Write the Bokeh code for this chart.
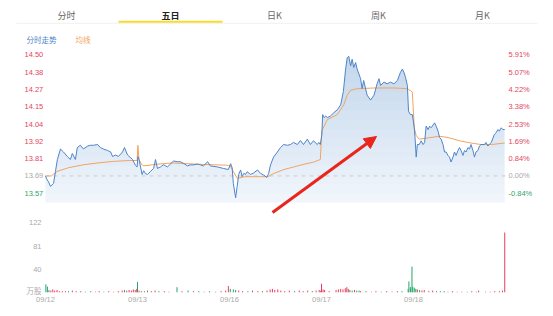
import numpy as np
from bokeh.plotting import figure
from bokeh.models import Range1d, ColumnDataSource, Arrow, NormalHead
from bokeh.core.properties import value
from bokeh.embed import file_html
from bokeh.resources import INLINE

# ---------------- data ----------------
tabs = ["分时", "五日", "日K", "周K", "月K"]
active_tab = "五日"
legend_names = ["分时走势", "均线"]
dates = ["09/12", "09/13", "09/16", "09/17", "09/18"]
day_start_minute = [0, 240, 480, 720, 960]
prev_close = 13.69

price_tick_labels = ["14.50", "14.38", "14.27", "14.15", "14.04", "13.92", "13.81", "13.69", "13.57"]
pct_values = [5.91, 5.07, 4.22, 3.38, 2.53, 1.69, 0.84, 0.00, -0.84]
pct_labels = ["5.91%", "5.07%", "4.22%", "3.38%", "2.53%", "1.69%", "0.84%", "0.00%", "-0.84%"]
vol_ticks = [122, 81, 40]
vol_unit = "万股"

# minute index over 5 trading days (240 per day)
minutes = [0, 3, 8, 13, 21, 26, 31, 39, 47, 57, 65, 70, 78, 83, 91, 99, 110, 117, 125, 136, 143, 151, 162, 170, 175, 183, 190, 201, 206, 214, 227, 235, 239,
           241, 244, 248, 252, 256, 261, 266, 274, 282, 287, 292, 300, 308, 318, 326, 334, 344, 352, 363, 370, 378, 386, 397, 404, 412, 423, 430, 449, 464, 477,
           483, 487, 490, 496, 500, 504, 509, 513, 517, 522, 526, 535, 543, 553, 561, 569, 577, 582, 587, 595, 605, 613, 621, 631, 639, 647, 657, 665, 673, 683, 691, 699, 709, 713, 717,
           721, 723, 727, 731, 736, 743, 751, 761, 770, 777, 783, 787, 791, 796, 800, 804, 809, 813, 822, 826, 830, 839, 848, 857, 865, 870, 874, 883, 891, 900, 909, 918, 926, 931, 935, 939, 944, 947, 952, 957,
           962, 964, 967, 970, 975, 980, 985, 989, 993, 998, 1002, 1006, 1015, 1019, 1024, 1028, 1032, 1037, 1041, 1045, 1050, 1054, 1058, 1063, 1067, 1071, 1076, 1080, 1084, 1089, 1093, 1097, 1102, 1106, 1110, 1115, 1119, 1123, 1128, 1132, 1136, 1145, 1149, 1154, 1163, 1171, 1176, 1180, 1184, 1189, 1193, 1198]
price = [13.69, 13.67, 13.65, 13.62, 13.64, 13.72, 13.80, 13.87, 13.85, 13.82, 13.80, 13.84, 13.80, 13.88, 13.895, 13.87, 13.89, 13.895, 13.895, 13.90, 13.88, 13.87, 13.86, 13.85, 13.82, 13.83, 13.82, 13.85, 13.88, 13.83, 13.80, 13.76, 13.75,
         13.82, 13.80, 13.75, 13.70, 13.725, 13.705, 13.70, 13.72, 13.74, 13.80, 13.74, 13.75, 13.765, 13.75, 13.77, 13.79, 13.785, 13.785, 13.77, 13.757, 13.764, 13.764, 13.77, 13.764, 13.757, 13.785, 13.757, 13.75, 13.74, 13.733,
         13.772, 13.744, 13.64, 13.544, 13.62, 13.70, 13.73, 13.685, 13.707, 13.70, 13.718, 13.70, 13.71, 13.73, 13.707, 13.697, 13.68, 13.705, 13.764, 13.816, 13.85, 13.88, 13.90, 13.895, 13.90, 13.914, 13.90, 13.927, 13.90, 13.936, 13.90, 13.925, 13.90, 13.914, 13.90,
         13.97, 14.10, 14.08, 14.09, 14.08, 14.09, 14.11, 14.132, 14.165, 14.254, 14.405, 14.48, 14.49, 14.426, 14.47, 14.415, 14.448, 14.404, 14.34, 14.274, 14.328, 14.23, 14.197, 14.23, 14.306, 14.34, 14.295, 14.317, 14.306, 14.317, 14.306, 14.328, 14.383, 14.404, 14.383, 14.35, 14.295, 14.123, 14.10, 14.10,
         14.012, 13.947, 13.816, 13.90, 13.90, 13.925, 13.90, 13.914, 14.023, 14.00, 14.023, 14.012, 14.045, 14.023, 13.99, 13.947, 13.936, 13.90, 13.85, 13.85, 13.827, 13.816, 13.783, 13.816, 13.85, 13.827, 13.86, 13.88, 13.86, 13.827, 13.86, 13.85, 13.88, 13.87, 13.90, 13.86, 13.816, 13.85, 13.86, 13.89, 13.90, 13.90, 13.914, 13.89, 13.914, 13.968, 13.98, 14.00, 13.99, 14.012, 14.00, 14.00]

avg_minutes = [0, 15, 30, 60, 100, 140, 180, 220, 239,
               241, 244, 250, 255, 290, 330, 400, 470, 478,
               481, 490, 500, 520, 560, 580, 596, 622, 648, 674, 700, 717,
               721, 735, 761, 778, 787, 796, 813, 860, 910, 944, 952, 957,
               962, 967, 975, 1000, 1028, 1050, 1080, 1110, 1136, 1163, 1198]
avg_price = [13.69, 13.69, 13.72, 13.745, 13.765, 13.778, 13.788, 13.793, 13.793,
             13.895, 13.80, 13.77, 13.757, 13.768, 13.777, 13.768, 13.762, 13.76,
             13.76, 13.72, 13.674, 13.685, 13.685, 13.685, 13.707, 13.733, 13.75, 13.768, 13.783, 13.80,
             13.993, 14.066, 14.10, 14.165, 14.23, 14.263, 14.273, 14.278, 14.278, 14.273, 14.26, 14.25,
             14.01, 13.96, 13.936, 13.945, 13.955, 13.947, 13.925, 13.91, 13.90, 13.90, 13.91]

vol_minutes = [1, 5, 9, 14, 19, 24, 30, 36, 44, 52, 60, 70, 80, 92, 104, 118, 130, 140, 152, 165, 178, 190, 200, 206, 212, 218, 224, 229, 234, 238,
               240, 244, 250, 258, 266, 276, 286, 296, 310, 322, 343, 356, 372, 386, 400, 414, 428, 444, 458, 470, 477,
               482, 490, 496, 504, 514, 528, 540, 554, 566, 578, 586, 592, 598, 606, 614, 624, 636, 650, 662, 672, 684, 696, 706, 714, 718,
               720, 724, 728, 740, 758, 764, 770, 776, 782, 786, 790, 794, 800, 806, 812, 818, 822, 836, 850, 862, 876, 890, 904, 918, 930, 946, 948, 952, 956, 958,
               962, 966, 970, 976, 982, 988, 1000, 1010, 1020, 1030, 1040, 1050, 1062, 1074, 1086, 1100, 1112, 1124, 1130, 1148, 1160, 1172, 1184, 1192, 1198]
vol_values = [14, 10, 4, 3, 5, 3, 4, 2, 2, 2, 2, 3, 2, 2, 1, 2, 1, 2, 1, 2, 1, 2, 3, 4, 3, 4, 3, 5, 4, 6,
              18, 3, 2, 2, 3, 2, 3, 2, 2, 1, 9, 2, 3, 2, 2, 1, 2, 1, 2, 3, 11,
              6, 5, 4, 3, 2, 2, 3, 2, 2, 3, 5, 6, 4, 5, 3, 2, 3, 2, 3, 2, 3, 2, 3, 4, 3,
              15, 5, 4, 2, 4, 5, 6, 5, 7, 9, 6, 4, 3, 4, 3, 3, 2, 2, 1, 2, 1, 2, 1, 2, 2, 6, 19, 9, 45, 10,
              8, 6, 5, 4, 3, 4, 2, 3, 2, 2, 2, 1, 2, 1, 1, 1, 2, 1, 3, 1, 1, 2, 2, 3, 105]
vol_dir = ["d", "d", "d", "u", "u", "u", "u", "u", "u", "u", "d", "u", "u", "u", "d", "d", "u", "u", "d", "u", "u", "u", "u", "u", "d", "u", "u", "u", "u", "u",
           "d", "u", "d", "u", "d", "u", "u", "d", "u", "u", "d", "u", "d", "u", "d", "u", "d", "u", "u", "u", "u",
           "d", "d", "d", "u", "u", "d", "u", "u", "d", "u", "u", "u", "u", "u", "u", "u", "u", "d", "u", "u", "u", "d", "u", "u", "u",
           "u", "u", "u", "u", "u", "u", "u", "u", "u", "u", "u", "d", "d", "u", "d", "d", "u", "d", "u", "u", "d", "u", "u", "u", "d", "d", "d", "d", "d", "d",
           "d", "d", "u", "d", "u", "u", "u", "u", "d", "d", "d", "d", "u", "d", "u", "d", "u", "d", "u", "u", "u", "u", "u", "u", "u"]

assert len(minutes) == len(price)
assert len(avg_minutes) == len(avg_price)
assert len(vol_minutes) == len(vol_values) == len(vol_dir)

# ---------------- styles ----------------
RED = "#e4455f"
GREEN = "#2fa56c"
GRAY = "#aaaaaa"
LINE_BLUE = "#4f84c8"
AVG_ORANGE = "#f0a460"
NUM_FONT = value("Liberation Sans")
CJK_FONT = value("Noto Sans CJK SC")

W, H = 553, 316
# x: minute 0 -> px 45, minute 1200 -> px 505 ; y: price mapped so 13.69 -> px 179.7
p = figure(width=W, height=H, output_backend="svg", toolbar_location=None,
           x_range=Range1d(-117.39, 1325.2), y_range=Range1d(12.7506, 14.8626),
           x_axis_location=None, y_axis_location=None, min_border=0)
p.extra_x_ranges = {"px": Range1d(0, W)}
p.extra_y_ranges = {"px": Range1d(H, 0), "vol": Range1d(-42.5, 512.4)}
p.grid.visible = False
p.outline_line_color = None
p.background_fill_color = "white"
p.border_fill_color = "white"

t = np.array(minutes, dtype=float)
pr = np.array(price)

# gradient area under the price line
floor = 13.512
p.varea(x=t, y1=floor, y2=pr, fill_color="#2e74d4", fill_alpha=0.06)
for L in np.linspace(floor, 14.5, 17)[:-1]:
    p.varea(x=t, y1=L, y2=np.maximum(pr, L), fill_color="#2e74d4", fill_alpha=0.0142)

# previous close dashed line
p.line(x=[0, 1200], y=[prev_close, prev_close], line_color="#cccccc", line_width=1, line_dash="4 4")

# price & average lines
p.line(x=avg_minutes, y=avg_price, line_color=AVG_ORANGE, line_width=1)
p.line(x=t, y=pr, line_color=LINE_BLUE, line_width=1)

# price axis labels (left) and percent labels (right)
tick_prices = [prev_close * (1 + v / 100) for v in pct_values]
lab_colors = [RED if v > 0 else (GRAY if v == 0 else GREEN) for v in pct_values]
src = ColumnDataSource(dict(y=tick_prices, left=price_tick_labels, right=pct_labels, c=lab_colors))
p.text(x=24, y="y", text="left", source=src, text_color="c", x_range_name="px",
       text_font=NUM_FONT, text_font_size="7.5px", text_baseline="middle", text_align="left")
p.text(x=508, y="y", text="right", source=src, text_color="c", x_range_name="px",
       text_font=NUM_FONT, text_font_size="7.5px", text_baseline="middle", text_align="left")

# volume bars
vcol = ["#e83e5e" if d == "u" else "#27a567" for d in vol_dir]
p.segment(x0=vol_minutes, y0=0, x1=vol_minutes, y1=vol_values, line_color=vcol,
          line_width=1, y_range_name="vol")

# volume axis labels
p.text(x=41, y=vol_ticks, text=[str(v) for v in vol_ticks], x_range_name="px", y_range_name="vol",
       text_color=GRAY, text_font=NUM_FONT, text_font_size="7.5px", text_baseline="middle", text_align="right")
p.text(x=[41], y=[289.5], text=[vol_unit], x_range_name="px", y_range_name="px",
       text_color=GRAY, text_font=CJK_FONT, text_font_size="7.5px", text_baseline="middle", text_align="right")

# date labels
p.text(x=day_start_minute, y=299, text=dates, y_range_name="px",
       text_color=GRAY, text_font=NUM_FONT, text_font_size="7.5px", text_baseline="middle", text_align="center")

# header tabs
tab_x = [66 + 104 * i for i in range(len(tabs))]
others = [i for i, s in enumerate(tabs) if s != active_tab]
ai = tabs.index(active_tab)
p.text(x=[tab_x[i] for i in others], y=14.5, text=[tabs[i] for i in others], x_range_name="px", y_range_name="px",
       text_color="#666666", text_font=CJK_FONT, text_font_size="9px", text_baseline="middle", text_align="center")
p.text(x=[tab_x[ai]], y=14.5, text=[active_tab], x_range_name="px", y_range_name="px",
       text_color="#222222", text_font=CJK_FONT, text_font_size="9px", text_font_style="bold",
       text_baseline="middle", text_align="center")
p.segment(x0=16, y0=22.8, x1=537, y1=22.8, line_color="#f0f0f0", line_width=1, x_range_name="px", y_range_name="px")
p.segment(x0=tab_x[ai] - 52, y0=21.3, x1=tab_x[ai] + 52, y1=21.3, line_color="#f7dc2c", line_width=2,
          x_range_name="px", y_range_name="px")

# legend texts
p.text(x=[26, 75], y=38.5, text=legend_names, text_color=[LINE_BLUE, AVG_ORANGE], x_range_name="px", y_range_name="px",
       text_font=CJK_FONT, text_font_size="7.5px", text_baseline="middle", text_align="left")

# red annotation arrow
p.add_layout(Arrow(end=NormalHead(size=12, fill_color="#e8261c", line_color="#e8261c"),
                   x_start=272, y_start=212, x_end=376, y_end=136,
                   line_color="#e8261c", line_width=3, x_range_name="px", y_range_name="px"))

open("out.html", "w").write(file_html(p, INLINE))
